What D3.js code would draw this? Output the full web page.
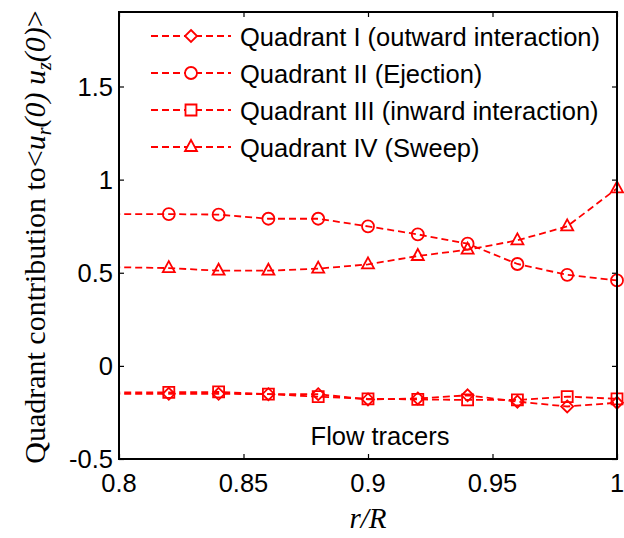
<!DOCTYPE html>
<html>
<head>
<meta charset="utf-8">
<script src="https://cdn.jsdelivr.net/npm/d3@7"></script>
<style>
  html, body { margin: 0; padding: 0; background: #fff; }
  svg { display: block; }
</style>
</head>
<body>
<svg id="chart" width="624" height="538"></svg>
<script>
// Radial positions r/R (the first sample lies just left of the axis window)
const rR = [0.78, 0.82, 0.84, 0.86, 0.88, 0.90, 0.92, 0.94, 0.96, 0.98, 1.00];

// Quadrant contributions to <u_r(0) u_z(0)>
const q1Outward = [-0.150, -0.150, -0.150, -0.152, -0.152, -0.180, -0.175, -0.158, -0.192, -0.218, -0.198];
const q2Ejection = [0.815, 0.815, 0.812, 0.790, 0.790, 0.749, 0.706, 0.656, 0.547, 0.489, 0.459];
const q3Inward = [-0.144, -0.142, -0.140, -0.152, -0.165, -0.177, -0.180, -0.183, -0.183, -0.165, -0.177];
const q4Sweep = [0.534, 0.525, 0.511, 0.511, 0.522, 0.545, 0.590, 0.624, 0.674, 0.749, 0.953];

const seriesNames = [
  "Quadrant I (outward interaction)",
  "Quadrant II (Ejection)",
  "Quadrant III (inward interaction)",
  "Quadrant IV (Sweep)"
];
const seriesValues = [q1Outward, q2Ejection, q3Inward, q4Sweep];
const seriesMarkers = ["diamond", "circle", "square", "triangle"];

const xTicks = [0.8, 0.85, 0.9, 0.95, 1];
const xTickLabels = ["0.8", "0.85", "0.9", "0.95", "1"];
const yTicks = [-0.5, 0, 0.5, 1, 1.5];
const yTickLabels = ["-0.5", "0", "0.5", "1", "1.5"];

const svg = d3.select("#chart");
const box = { left: 119, right: 617, top: 12, bottom: 459 };
const red = "#ff0000";

const x = d3.scaleLinear().domain([0.8, 1.0]).range([box.left, box.right]);
const y = d3.scaleLinear().domain([-0.5, 1.9]).range([box.bottom, box.top]);

svg.append("defs").append("clipPath").attr("id", "plotClip")
  .append("rect")
  .attr("x", box.left).attr("y", box.top)
  .attr("width", box.right - box.left).attr("height", box.bottom - box.top);

// Marker glyphs, centred on the origin
function markerPath(kind) {
  const s = 6;
  switch (kind) {
    case "diamond": return `M0,${-s} L${s},0 L0,${s} L${-s},0 Z`;
    case "circle": return d3.symbol(d3.symbolCircle, Math.PI * s * s)();
    case "square": return `M${-s + 0.5},${-s + 0.5} H${s - 0.5} V${s - 0.5} H${-s + 0.5} Z`;
    case "triangle": return `M0,${-s - 1} L${s},${s - 2} L${-s},${s - 2} Z`;
  }
}

const line = d3.line().x(d => x(d[0])).y(d => y(d[1]));

const plot = svg.append("g");
seriesValues.forEach((vals, i) => {
  const pts = rR.map((r, k) => [r, vals[k]]);
  plot.append("path")
    .attr("d", line(pts))
    .attr("clip-path", "url(#plotClip)")
    .attr("fill", "none")
    .attr("stroke", red)
    .attr("stroke-width", 1.8)
    .attr("stroke-dasharray", "7,4");
  plot.selectAll(null)
    .data(pts.filter(p => p[0] >= 0.8))
    .enter().append("path")
    .attr("d", markerPath(seriesMarkers[i]))
    .attr("transform", d => `translate(${x(d[0])},${y(d[1])})`)
    .attr("fill", "none")
    .attr("stroke", red)
    .attr("stroke-width", 1.8);
});

// Axes box with inward ticks on all four sides
const axes = svg.append("g");
const tickLen = 5;
const bottomAxis = d3.axisBottom(x).tickValues(xTicks).tickSize(-tickLen).tickFormat("");
const topAxis = d3.axisTop(x).tickValues(xTicks).tickSize(-tickLen).tickFormat("");
const leftAxis = d3.axisLeft(y).tickValues(yTicks).tickSize(-tickLen).tickFormat("");
const rightAxis = d3.axisRight(y).tickValues(yTicks).tickSize(-tickLen).tickFormat("");

[[bottomAxis, `translate(0,${box.bottom})`],
 [topAxis, `translate(0,${box.top})`],
 [leftAxis, `translate(${box.left},0)`],
 [rightAxis, `translate(${box.right},0)`]].forEach(([ax, tr]) => {
  const g = axes.append("g").attr("transform", tr).call(ax);
  g.select(".domain").remove();
  g.selectAll(".tick line").attr("stroke", "#000").attr("stroke-width", 1.2);
});

axes.append("rect")
  .attr("x", box.left).attr("y", box.top)
  .attr("width", box.right - box.left).attr("height", box.bottom - box.top)
  .attr("fill", "none").attr("stroke", "#000").attr("stroke-width", 2);

const sans = "'Liberation Sans', Arial, sans-serif";
const serif = "'Liberation Serif', 'Times New Roman', serif";

// Tick labels
svg.append("g").selectAll("text").data(xTicks).enter().append("text")
  .attr("x", d => x(d)).attr("y", 492)
  .attr("text-anchor", "middle")
  .attr("font-family", sans).attr("font-size", 25.5)
  .text((d, i) => xTickLabels[i]);

svg.append("g").selectAll("text").data(yTicks).enter().append("text")
  .attr("x", 113).attr("y", d => y(d) + 9)
  .attr("text-anchor", "end")
  .attr("font-family", sans).attr("font-size", 25.5)
  .text((d, i) => yTickLabels[i]);

// Axis titles
svg.append("text")
  .attr("x", x(0.9)).attr("y", 528)
  .attr("text-anchor", "middle")
  .attr("font-family", serif).attr("font-size", 29).attr("font-style", "italic")
  .text("r/R");

const yTitle = svg.append("text")
  .attr("transform", "translate(45,237) rotate(-90)")
  .attr("text-anchor", "middle")
  .attr("font-family", serif).attr("font-size", 30);
yTitle.append("tspan").text("Quadrant contribution to<");
yTitle.append("tspan").attr("font-style", "italic").text("u");
yTitle.append("tspan").attr("font-style", "italic").attr("font-size", 20).attr("dy", 6).text("r");
yTitle.append("tspan").attr("font-style", "italic").attr("dy", -6).text("(0) u");
yTitle.append("tspan").attr("font-style", "italic").attr("font-size", 20).attr("dy", 6).text("z");
yTitle.append("tspan").attr("font-style", "italic").attr("dy", -6).text("(0)");
yTitle.append("tspan").text(">");

// Annotation
svg.append("text")
  .attr("x", 380).attr("y", 445)
  .attr("text-anchor", "middle")
  .attr("font-family", sans).attr("font-size", 25.5)
  .text("Flow tracers");

// Legend
const legend = svg.append("g");
seriesNames.forEach((name, i) => {
  const ly = 36 + i * 37;
  legend.append("line")
    .attr("x1", 151).attr("x2", 231).attr("y1", ly).attr("y2", ly)
    .attr("stroke", red).attr("stroke-width", 1.8)
    .attr("stroke-dasharray", "7,4");
  legend.append("path")
    .attr("d", markerPath(seriesMarkers[i]))
    .attr("transform", `translate(191,${ly})`)
    .attr("fill", "#fff")
    .attr("stroke", red).attr("stroke-width", 1.8);
  legend.append("text")
    .attr("x", 240).attr("y", ly + 10)
    .attr("font-family", sans).attr("font-size", 25.5)
    .text(name);
});
</script>
</body>
</html>
